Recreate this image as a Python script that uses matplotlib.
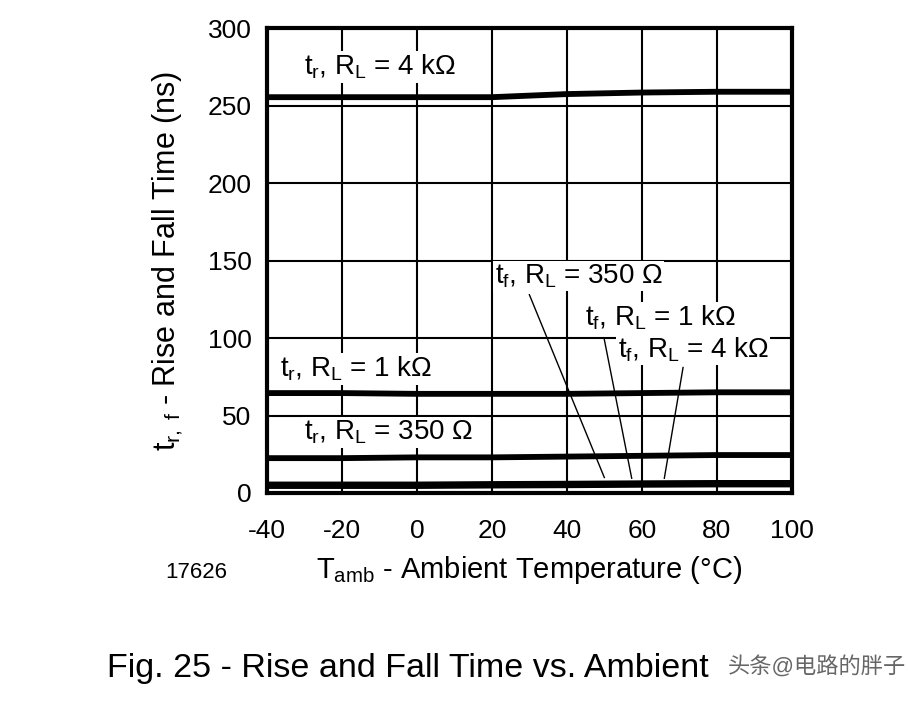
import numpy as np
import matplotlib
matplotlib.use('Agg')
from matplotlib import pyplot as plt

plt.rcParams['font.family'] = ['Liberation Sans', 'Noto Sans CJK SC', 'DejaVu Sans']
plt.rcParams['mathtext.fontset'] = 'custom'
plt.rcParams['mathtext.rm'] = 'Liberation Sans'
plt.rcParams['mathtext.it'] = 'Liberation Sans'
plt.rcParams['axes.unicode_minus'] = False

# data
temp = [-40, -20, 0, 20, 40, 60, 80, 100]
tr_4k = [255.5, 255.5, 255.5, 255.5, 257.5, 258.5, 259, 259]
tr_1k = [64.5, 64.5, 64, 64, 64, 64.5, 65, 65]
tr_350 = [22.5, 22.5, 23, 23, 23.5, 24, 24.5, 24.5]
tf_350 = [4.5, 4.5, 4.5, 4.8, 5, 5.3, 5.5, 5.5]
tf_1k = [5, 5, 5, 5.3, 5.5, 5.8, 6, 6]
tf_4k = [5.5, 5.5, 5.5, 5.8, 6, 6.3, 6.5, 6.5]

fig = plt.figure(figsize=(9.08, 7.06), dpi=100)
ax = fig.add_axes([0.294, 0.3017, 0.578, 0.6583])

for s in [tr_4k, tr_1k, tr_350, tf_350, tf_1k, tf_4k]:
    ax.plot(temp, s, color='black', lw=4.2, solid_capstyle='butt', zorder=3)

ax.set_xlim(-40, 100)
ax.set_ylim(0, 300)
ax.set_xticks(range(-40, 101, 20))
ax.set_yticks(range(0, 301, 50))
ax.grid(True, color='black', lw=1.5)
ax.tick_params(length=0, labelsize=19)
ax.tick_params(axis='x', pad=19)
ax.tick_params(axis='y', pad=11)
for sp in ax.spines.values():
    sp.set_linewidth(3)

box = dict(facecolor='white', edgecolor='none', pad=1)
fs = 20
ax.text(-30, 275, r'$t_r$, $R_L$ = 4 k$\Omega$', fontsize=fs, va='center', bbox=box, zorder=4)
ax.text(-36.5, 80, r'$t_r$, $R_L$ = 1 k$\Omega$', fontsize=fs, va='center', bbox=box, zorder=4)
ax.text(-30, 39, r'$t_r$, $R_L$ = 350 $\Omega$', fontsize=fs, va='center', bbox=box, zorder=4)
ax.text(20.8, 140, r'$t_f$, $R_L$ = 350 $\Omega$', fontsize=fs, va='center', bbox=box, zorder=4)
ax.text(44.8, 113, r'$t_f$, $R_L$ = 1 k$\Omega$', fontsize=fs, va='center', bbox=box, zorder=4)
ax.text(53.6, 92.5, r'$t_f$, $R_L$ = 4 k$\Omega$', fontsize=fs, va='center', bbox=box, zorder=4)

# leader lines
ax.plot([30, 50], [128, 10], color='black', lw=1, zorder=2)
ax.plot([50, 57.3], [99, 9.5], color='black', lw=1, zorder=2)
ax.plot([71, 66], [81, 9.5], color='black', lw=1, zorder=2)

ax.set_ylabel(r'$t_{r,\ f}$ - Rise and Fall Time (ns)', fontsize=22, labelpad=16)
ax.set_xlabel(r'$T_{amb}$ - Ambient Temperature (°C)', fontsize=21, labelpad=8)

fig.text(165 / 908, 1 - 572 / 706, '17626', fontsize=16, va='center')
fig.text(107 / 908, 1 - 668 / 706, 'Fig. 25 - Rise and Fall Time vs. Ambient', fontsize=24.5, va='center')
fig.text(728 / 908, 1 - 668 / 706, '头条@电路的胖子', fontsize=16, va='center', color='#666666')

fig.savefig('out.png', dpi=100)
